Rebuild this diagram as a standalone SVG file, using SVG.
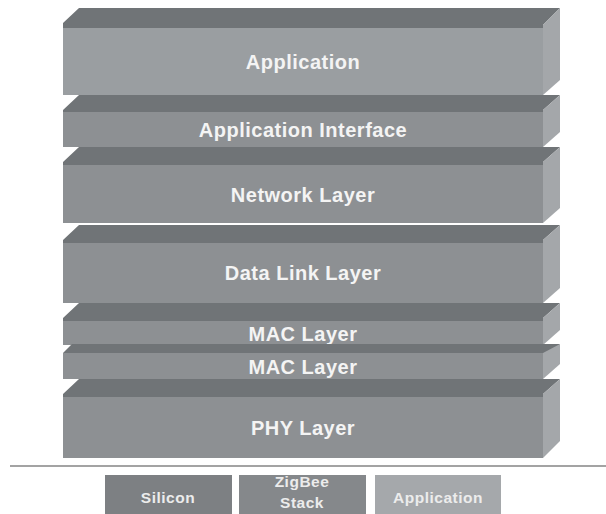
<svg xmlns="http://www.w3.org/2000/svg" width="606" height="514" viewBox="0 0 606 514">
<style>
.top{fill:#707477}
.front{fill:#8d9093}
.front1{fill:#9a9ea1}
.side{fill:#a4a7aa}
.lbl{font-family:"Liberation Sans",Arial,sans-serif;font-weight:bold;font-size:20px;fill:#f4f4f4;text-anchor:middle;letter-spacing:0.5px}
.small{font-family:"Liberation Sans",Arial,sans-serif;font-weight:bold;font-size:15.5px;fill:#ececec;text-anchor:middle;letter-spacing:0.5px}
</style>
<rect width="606" height="514" fill="#ffffff"/>
<g id="layer-application">
<polygon class="top" points="63,28 63,23 79,8 560,8 543,25 543,28"/>
<rect class="front1" x="63" y="28" width="480" height="67"/>
<polygon class="side" points="543,25 560,8 560,80 543,95"/>
<text class="lbl" x="303" y="69">Application</text>
</g>
<g id="layer-app-interface">
<polygon class="top" points="63,112 63,110 79,95 560,95 543,110 543,112"/>
<rect class="front" x="63" y="112" width="480" height="35"/>
<polygon class="side" points="543,110 560,95 560,132 543,147"/>
<text class="lbl" x="303" y="137">Application Interface</text>
</g>
<g id="layer-network">
<polygon class="top" points="63,165 63,162 79,147 560,147 543,162 543,165"/>
<rect class="front" x="63" y="165" width="480" height="58"/>
<polygon class="side" points="543,162 560,147 560,208 543,223"/>
<text class="lbl" x="303" y="202">Network Layer</text>
</g>
<g id="layer-datalink">
<polygon class="top" points="63,243 63,240 79,225 560,225 543,240 543,243"/>
<rect class="front" x="63" y="243" width="480" height="60"/>
<polygon class="side" points="543,240 560,225 560,288 543,303"/>
<text class="lbl" x="303" y="280">Data Link Layer</text>
</g>
<g id="layer-mac1">
<polygon class="top" points="63,321 63,318 79,303 560,303 543,318 543,321"/>
<rect class="front" x="63" y="321" width="480" height="24"/>
<polygon class="side" points="543,318 560,303 560,330 543,345"/>
<text class="lbl" x="303" y="341">MAC Layer</text>
</g>
<g id="layer-mac2">
<polygon class="top" points="63,353 72,344 560,344 551,353"/>
<rect class="front" x="63" y="353" width="480" height="26"/>
<polygon class="side" points="543,353 560,344 560,364 543,379"/>
<text class="lbl" x="303" y="374">MAC Layer</text>
</g>
<g id="layer-phy">
<polygon class="top" points="63,397 63,394 79,379 560,379 543,394 543,397"/>
<rect class="front" x="63" y="397" width="480" height="61"/>
<polygon class="side" points="543,394 560,379 560,441 543,458"/>
<text class="lbl" x="303" y="435">PHY Layer</text>
</g>
<line x1="10" y1="466" x2="606" y2="466" stroke="#a3a3a3" stroke-width="2"/>
<g id="legend-silicon">
<rect x="105" y="475" width="127" height="39" fill="#7d8083"/>
<text class="small" x="168" y="503">Silicon</text>
</g>
<g id="legend-zigbee">
<rect x="239" y="475" width="127" height="39" fill="#85888b"/>
<text class="small" x="302" y="487">ZigBee</text>
<text class="small" x="302" y="508">Stack</text>
</g>
<g id="legend-application">
<rect x="375" y="475" width="126" height="39" fill="#a5a8ab"/>
<text class="small" x="438" y="503">Application</text>
</g>
<g id="connectors"/>
</svg>
